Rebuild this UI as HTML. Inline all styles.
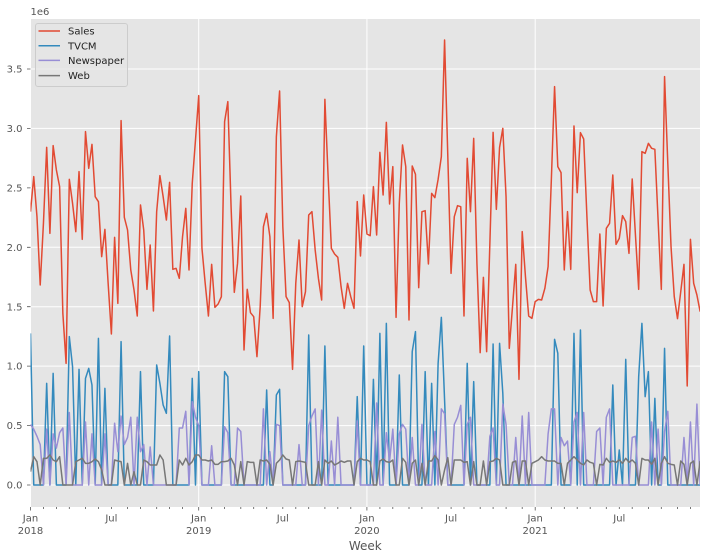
<!DOCTYPE html>
<html><head><meta charset="utf-8"><style>
html,body{margin:0;padding:0;background:#fff;}
svg{display:block;font-family:"DejaVu Sans","Liberation Sans",sans-serif;}
</style></head><body>
<svg width="707" height="560" viewBox="0 0 707 560" xmlns="http://www.w3.org/2000/svg">
<defs><clipPath id="c"><rect x="30.5" y="19" width="669.5" height="488"/></clipPath></defs>
<rect x="30.5" y="19" width="669.5" height="488" fill="#E5E5E5"/>
<g stroke="#fff" stroke-width="1" fill="none">
<path d="M30.5 485H700M30.5 425.6H700M30.5 366.1H700M30.5 306.7H700M30.5 247.3H700M30.5 187.9H700M30.5 128.4H700M30.5 69H700"/>
<path d="M30.5 19V507M198.7 19V507M366.9 19V507M535.2 19V507"/>
</g>
<g clip-path="url(#c)" fill="none" stroke-width="1.5" stroke-linejoin="round">
<g transform="translate(30.5,30) scale(3.235,0.333333)">
<polyline vector-effect="non-scaling-stroke" stroke="#E24A33" points="0,545 1,440 2,560 3,765 4,580 5,352 6,610 7,347 8,420 9,470 10,850 11,1000 12,448 13,520 14,605 15,425 16,628 17,305 18,415 19,343 20,500 21,515 22,680 23,598 24,760 25,912 26,622 27,820 28,272 29,562 30,600 31,720 32,780 33,858 34,525 35,600 36,778 37,645 38,843 39,545 40,437 41,500 42,570 43,457 44,718 45,715 46,745 47,620 48,535 49,720 50,460 51,330 52,197 53,655 54,760 55,858 56,703 57,832 58,822 59,800 60,275 61,215 62,530 63,787 64,700 65,498 66,960 67,778 68,848 69,860 70,980 71,830 72,590 73,550 74,620 75,865 76,320 77,183 78,590 79,800 80,818 81,1018 82,760 83,630 84,830 85,785 86,555 87,545 88,660 89,745 90,810 91,208 92,440 93,655 94,672 95,682 96,770 97,835 98,760 99,800 100,835 101,515 102,678 103,495 104,612 105,617 106,470 107,615 108,367 109,495 110,277 111,522 112,410 113,862 114,520 115,345 116,410 117,870 118,408 119,433 120,773 121,545 122,542 123,702 124,490 125,503 126,448 127,380 128,30 129,380 130,730 131,560 132,527 133,530 134,858 135,385 136,545 137,325 138,700 139,968 140,742 141,965 142,640 143,307 144,538 145,352 146,295 147,500 148,955 149,830 150,703 151,1048 152,605 153,740 154,858 155,865 156,815 157,808 158,810 159,775 160,710 161,450 162,170 163,410 164,428 165,720 166,545 167,718 168,288 169,488 170,308 171,327 172,560 173,780 174,815 175,815 176,612 177,828 178,595 179,580 180,435 181,643 182,625 183,557 184,575 185,670 186,447 187,615 188,778 189,365 190,370 191,340 192,355 193,358 194,570 195,778 196,140 197,400 198,650 199,800 200,866 201,785 202,703 203,1068 204,628 205,760 206,795 207,845"/>
<polyline vector-effect="non-scaling-stroke" stroke="#348ABD" points="0,910 1,1365 4,1365 5,1060 6,1365 7,1030 8,1365 11,1365 12,920 13,1010 14,1365 15,1018 16,1365 17,1045 18,1015 19,1065 20,1365 21,925 22,1365 23,1075 24,1365 27,1365 28,935 29,1365 33,1365 34,1025 35,1365 38,1365 39,1005 40,1060 41,1125 42,1150 43,918 44,1365 49,1365 50,1045 51,1365 52,1025 53,1365 59,1365 60,1025 61,1040 62,1365 72,1365 73,1080 74,1365 75,1365 76,1095 77,1078 78,1365 85,1365 86,915 87,1365 90,1365 91,948 92,1365 100,1365 101,1100 102,1365 103,948 104,1365 105,1365 106,1048 107,1365 108,910 109,1365 110,880 111,1365 113,1365 114,1035 115,1365 117,1365 118,965 119,905 120,1365 121,1365 122,1025 123,1365 124,1060 125,1365 126,1000 127,862 128,1110 129,1365 134,1365 135,1000 136,1365 137,1055 138,1365 142,1365 143,942 144,1365 145,940 146,1090 147,1365 161,1365 162,928 163,970 164,1365 167,1365 168,910 169,1365 170,900 171,1365 179,1365 180,1065 181,1365 182,1260 183,1365 184,988 185,1365 187,1365 188,1040 189,880 190,1100 191,1025 192,1365 193,1105 194,1365 195,1365 196,955 197,1365 207,1365"/>
</g>
<g transform="translate(30.5,485) scale(3.235,-118.86)">
<polyline vector-effect="non-scaling-stroke" stroke="#988ED5" points="0,0.51 1,0.47 2,0.41 3,0.34 4,0 5,0.47 6,0 7,0.43 8,0.31 9,0.44 10,0.48 11,0 12,0.61 13,0 16,0 17,0.53 18,0 19,0.43 20,0 22,0 23,0.43 24,0 25,0 26,0.52 27,0.28 28,0.58 29,0.34 30,0.40 31,0.57 32,0 33,0.57 34,0.28 35,0.34 36,0 37,0.32 38,0 45,0 46,0.48 47,0.48 48,0.62 49,0 50,0.7 51,0.57 52,0.5 53,0 55,0 56,0.33 57,0 59,0 60,0.49 61,0.44 62,0 63,0 64,0.48 65,0.45 66,0 71,0 72,0.64 73,0 74,0.28 75,0 76,0.51 77,0.5 78,0 82,0 83,0.34 84,0 85,0 86,0.5 87,0.58 88,0.64 89,0 90,0.63 91,0 92,0 93,0.37 94,0 95,0.57 96,0 100,0 101,0.54 102,0 106,0 107,0.69 108,0 109,0 110,0.44 111,0.2 112,0.47 113,0 114,0.43 115,0.51 116,0.47 117,0 118,0.4 119,0 120,0 121,0.51 122,0 124,0 125,0.45 126,0 127,0.64 128,0.6 129,0 130,0 131,0.51 132,0.57 133,0.67 134,0 135,0.51 136,0.57 137,0 141,0 142,0.41 143,0.48 144,0 145,0 146,0.68 147,0.51 148,0 149,0 150,0.4 151,0 152,0.58 153,0 154,0.61 155,0 159,0 160,0.43 161,0.64 162,0.64 163,0 164,0.4 165,0.33 166,0.37 167,0 168,0.53 169,0.61 170,0 171,0.61 172,0 174,0 175,0.45 176,0.48 177,0 178,0.57 179,0.64 180,0 185,0 186,0.4 187,0.41 188,0 191,0 192,0.53 193,0 194,0.47 195,0 196,0.45 197,0.62 198,0 201,0 202,0.4 203,0 204,0.53 205,0 206,0.68 207,0"/>
</g>
<g transform="translate(30.5,405) scale(3.235,0.333333)">
<polyline vector-effect="non-scaling-stroke" stroke="#777777" points="0,200 1,155 2,170 3,240 4,160 5,160 6,150 7,165 8,170 9,155 10,240 13,240 14,170 15,165 16,160 17,175 18,175 19,170 20,162 21,170 22,195 23,240 25,240 26,165 27,168 28,170 29,240 30,175 31,240 32,200 33,240 34,240 35,165 36,170 37,180 38,180 39,180 40,150 41,165 42,240 45,240 46,165 47,180 48,160 49,180 50,170 51,150 52,150 53,165 54,165 55,168 56,165 57,178 58,178 59,170 60,170 61,168 62,160 63,180 64,240 65,170 66,240 67,170 68,172 69,172 70,240 71,165 72,168 73,165 74,178 75,240 76,175 77,165 78,150 79,162 80,165 81,240 82,170 83,168 84,170 85,172 86,240 88,240 89,170 90,240 91,165 92,175 93,168 94,180 95,175 96,168 97,172 98,168 99,168 100,240 101,170 102,160 103,165 104,165 105,170 106,240 107,240 108,168 109,162 110,170 111,172 112,165 113,240 114,240 115,160 116,172 117,240 118,175 119,165 120,240 121,175 122,240 123,168 124,168 125,152 126,165 127,240 128,195 129,158 130,240 131,165 132,165 133,165 134,172 135,170 136,240 137,170 138,240 139,240 140,168 141,240 142,170 143,168 144,160 145,165 146,240 148,240 149,172 150,168 151,240 152,168 153,168 154,240 155,175 156,170 157,165 158,155 159,165 160,168 161,168 162,168 163,175 164,175 165,240 166,175 167,165 168,155 169,165 170,175 171,180 172,165 173,172 174,175 175,240 176,178 177,180 178,160 179,172 180,168 181,172 182,165 183,175 184,160 185,172 186,165 187,175 188,240 189,160 190,165 191,165 192,178 193,160 194,240 195,175 196,155 197,175 198,178 199,180 200,240 201,168 202,178 203,240 204,175 205,168 206,240 207,168"/>
</g>
</g>
<!-- legend -->
<rect x="35.5" y="23.5" width="92" height="63" rx="2.5" fill="#E5E5E5" fill-opacity="0.8" stroke="#CCCCCC" stroke-width="1"/>
<g stroke-width="1.5">
<line x1="38.5" y1="31" x2="60" y2="31" stroke="#E24A33"/>
<line x1="38.5" y1="45.7" x2="60" y2="45.7" stroke="#348ABD"/>
<line x1="38.5" y1="60.4" x2="60" y2="60.4" stroke="#988ED5"/>
<line x1="38.5" y1="75.6" x2="60" y2="75.6" stroke="#777777"/>
</g>
<g font-size="10" fill="#222">
<text x="68" y="34.6">Sales</text>
<text x="68" y="49.3">TVCM</text>
<text x="68" y="64">Newspaper</text>
<text x="68" y="79.2">Web</text>
</g>
<!-- y ticks -->
<g stroke="#555555" stroke-width="0.8">
<path d="M27 485H30.5M27 425.6H30.5M27 366.1H30.5M27 306.7H30.5M27 247.3H30.5M27 187.9H30.5M27 128.4H30.5M27 69H30.5"/>
<path d="M30.5 507v3.5M198.7 507v3.5M366.9 507v3.5M535.2 507v3.5"/>
<path d="M43.4 507v2M56.4 507v2M69.3 507v2M85.5 507v2M98.4 507v2M111.4 507v2M127.6 507v2M140.5 507v2M156.7 507v2M169.6 507v2M182.6 507v2M211.7 507v2M224.6 507v2M240.8 507v2M253.7 507v2M266.7 507v2M282.8 507v2M295.8 507v2M308.7 507v2M324.9 507v2M337.8 507v2M350.8 507v2M379.9 507v2M392.8 507v2M409 507v2M421.9 507v2M438.1 507v2M451.1 507v2M464 507v2M480.2 507v2M493.1 507v2M506.1 507v2M522.2 507v2M551.3 507v2M564.3 507v2M577.2 507v2M590.2 507v2M606.3 507v2M619.3 507v2M632.2 507v2M648.4 507v2M661.3 507v2M677.5 507v2M690.4 507v2"/>
</g>
<g font-size="10" fill="#555555" text-anchor="end">
<text x="22.5" y="488.6">0.0</text>
<text x="22.5" y="429.2">0.5</text>
<text x="22.5" y="369.7">1.0</text>
<text x="22.5" y="310.3">1.5</text>
<text x="22.5" y="250.9">2.0</text>
<text x="22.5" y="191.5">2.5</text>
<text x="22.5" y="132">3.0</text>
<text x="22.5" y="72.6">3.5</text>
</g>
<text x="30.5" y="15" font-size="10" fill="#555555">1e6</text>
<g font-size="10" fill="#555555" text-anchor="middle">
<text x="30.5" y="521.5">Jan</text><text x="30.5" y="533.8">2018</text>
<text x="111.4" y="521.5">Jul</text>
<text x="198.7" y="521.5">Jan</text><text x="198.7" y="533.8">2019</text>
<text x="282.8" y="521.5">Jul</text>
<text x="366.9" y="521.5">Jan</text><text x="366.9" y="533.8">2020</text>
<text x="451.1" y="521.5">Jul</text>
<text x="535.2" y="521.5">Jan</text><text x="535.2" y="533.8">2021</text>
<text x="619.3" y="521.5">Jul</text>
</g>
<text x="365.3" y="550" font-size="12" fill="#555555" text-anchor="middle">Week</text>
</svg>
</body></html>
